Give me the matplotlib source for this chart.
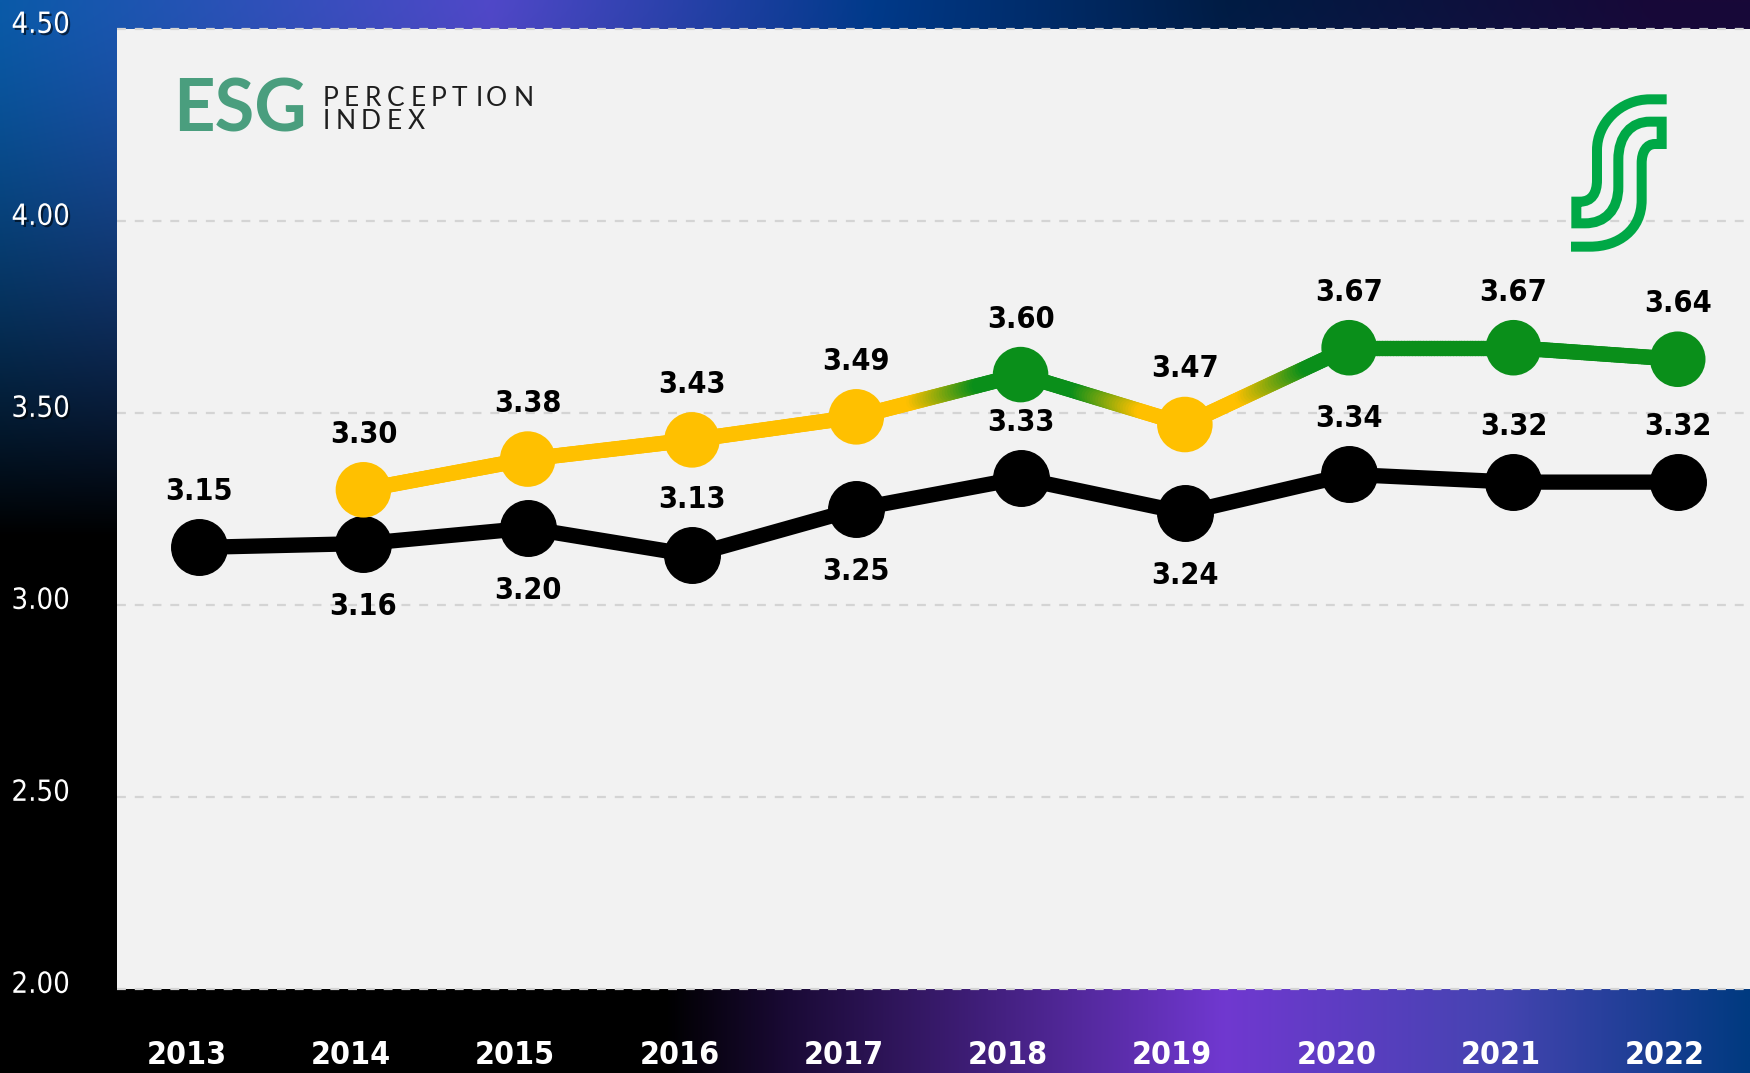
import numpy as np
import matplotlib
matplotlib.use("Agg")
import matplotlib.pyplot as plt
from matplotlib.collections import LineCollection
from matplotlib.colors import to_rgb
from matplotlib.path import Path
from matplotlib.patches import PathPatch
from matplotlib.textpath import TextPath
from matplotlib.font_manager import FontProperties
from matplotlib.transforms import offset_copy
from matplotlib import patheffects

# data
years = [2013, 2014, 2015, 2016, 2017, 2018, 2019, 2020, 2021, 2022]
overall = [3.15, 3.16, 3.20, 3.13, 3.25, 3.33, 3.24, 3.34, 3.32, 3.32]
overall_label_side = [1, -1, -1, 1, -1, 1, -1, 1, 1, 1]   # 1 above, -1 below
leader_years = years[1:]
leader = [3.30, 3.38, 3.43, 3.49, 3.60, 3.47, 3.67, 3.67, 3.64]
yticks = [2.00, 2.50, 3.00, 3.50, 4.00, 4.50]
ytick_labels = ["2.00", "2.50", "3.00", "3.50", "4.00", "4.50"]

YELLOW = "#ffc000"
GREEN = "#0a8f1a"
NARROW = ["DejaVu Sans"]

fig = plt.figure(figsize=(17.5, 10.73), dpi=100)

# background gradient
H, W = 300, 500
xs = np.linspace(0, 1, W)
top_stops = [0, .28, .5, .7, .95, 1]
top_cols = ["#0a5aa8", "#5048c8", "#003a8a", "#001c44", "#180838", "#180838"]
bot_stops = [0, .38, .45, .7, .86, 1]
bot_cols = ["#000000", "#000000", "#1a0a35", "#7038d0", "#4444b0", "#003a80"]


def row(stops, cols):
    rgb = np.array([to_rgb(c) for c in cols])
    return np.stack([np.interp(xs, stops, rgb[:, k]) for k in range(3)], axis=1)


top_row, bot_row = row(top_stops, top_cols), row(bot_stops, bot_cols)
w = (np.clip(np.linspace(0, 1, H) / 0.5, 0, 1) ** 1.4)[:, None, None]
bg = (1 - w) * top_row[None] + w * bot_row[None]
bga = fig.add_axes([0, 0, 1, 1])
bga.imshow(bg, aspect="auto", extent=[0, 1, 0, 1], interpolation="bilinear")
bga.axis("off")

# main axes
ax = fig.add_axes([117 / 1750, 1 - 989 / 1073, 1 - 117 / 1750, (989 - 29) / 1073])
ax.set_facecolor("#f2f2f2")
for s in ax.spines.values():
    s.set_visible(False)
ax.set_xlim(2012.5, 2022.44)
ax.set_ylim(2.0, 4.5)
ax.set_xticks([])
ax.set_yticks([])
for v in yticks:
    ax.axhline(v, color="#d4d4d4", lw=1.6, ls=(0, (4, 4)), zorder=1, clip_on=False)

for v, lab in zip(yticks, ytick_labels):
    ax.annotate(lab, xy=(0, v), xycoords=("axes fraction", "data"), xytext=(-76, 3),
                textcoords="offset points", ha="left", va="center", fontsize=21,
                color="white", family=NARROW, fontstretch="condensed", annotation_clip=False,
                path_effects=[patheffects.SimplePatchShadow(offset=(1.5, -1.5), shadow_rgbFace="black", alpha=0.6),
                              patheffects.Normal()])
for y in years:
    ax.annotate(str(y), xy=(y, 0), xycoords=("data", "axes fraction"), xytext=(-9, -48),
                textcoords="offset points", ha="center", va="center", fontsize=23,
                fontweight="bold", fontstretch="condensed", color="white", family=NARROW,
                annotation_clip=False)

# overall line
ax.plot(years, overall, color="black", lw=11, marker="o", ms=40, zorder=3, solid_capstyle="round")
for x, v, side in zip(years, overall, overall_label_side):
    ax.annotate(f"{v:.2f}", (x, v), xytext=(0, 40 if side > 0 else -45), textcoords="offset points",
                ha="center", va="center", fontsize=22, fontweight="bold", fontstretch="condensed",
                family=NARROW, zorder=6)

# leader line with yellow/green gradient
pt_cols = [GREEN if v >= 3.5 else YELLOW for v in leader]
segs, seg_cols = [], []
ts = np.linspace(0, 1, 61)
for i in range(len(leader) - 1):
    c0, c1 = np.array(to_rgb(pt_cols[i])), np.array(to_rgb(pt_cols[i + 1]))
    x0, x1 = leader_years[i], leader_years[i + 1]
    y0, y1 = leader[i], leader[i + 1]
    for a, b in zip(ts[:-1], ts[1:]):
        k = np.clip(((a + b) / 2 - 0.35) / 0.4, 0, 1)
        segs.append([(x0 + a * (x1 - x0), y0 + a * (y1 - y0)), (x0 + b * (x1 - x0), y0 + b * (y1 - y0))])
        seg_cols.append((1 - k) * c0 + k * c1)
ax.add_collection(LineCollection(segs, colors=seg_cols, linewidths=11, capstyle="round", zorder=4))
ax.scatter(leader_years, leader, s=40 ** 2, c=pt_cols, zorder=5, linewidths=0)
for x, v in zip(leader_years, leader):
    ax.annotate(f"{v:.2f}", (x, v), xytext=(0, 40), textcoords="offset points",
                ha="center", va="center", fontsize=22, fontweight="bold", fontstretch="condensed",
                family=NARROW, zorder=6)

# ESG Perception Index logo
fig.text(173 / 1750, 1 - 131 / 1073, "ESG", fontsize=52, fontweight="bold", family=["Lato", "DejaVu Sans"],
         color="#4a9e7e", ha="left", va="baseline")


def tracked(x_px, base_px, s, size, width_pt):
    fp = FontProperties(family=["Lato", "DejaVu Sans"], weight="normal", size=size)
    widths = [TextPath((0, 0), ch, size=size, prop=fp).get_extents().width for ch in s]
    gap = (width_pt - sum(widths)) / (len(s) - 1)
    dx = 0
    for ch, cw in zip(s, widths):
        tr = offset_copy(fig.transFigure, fig=fig, x=dx, y=0, units="points")
        fig.text(x_px / 1750, 1 - base_px / 1073, ch, fontproperties=fp, color="#1e1e1e",
                 ha="left", va="baseline", transform=tr)
        dx += cw + gap


tracked(323, 106, "PERCEPTION", 19, 148)
tracked(323, 129, "INDEX", 19, 73)

# S logo
la = fig.add_axes([1450 / 1750, 1 - 280 / 1073, 300 / 1750, 220 / 1073])
la.set_xlim(0, 900)
la.set_ylim(660, 0)
la.axis("off")
M, L, C = Path.MOVETO, Path.LINETO, Path.CURVE4
verts = [((650, 118), M), ((600, 118), L),
         ((510, 118), C), ((441, 190), C), ((441, 270), C),
         ((441, 360), L),
         ((441, 400), C), ((425, 425), C), ((390, 425), C),
         ((379, 425), L), ((379, 490), L), ((405, 490), L),
         ((465, 490), C), ((505, 450), C), ((505, 380), C),
         ((505, 300), L),
         ((505, 225), C), ((545, 185), C), ((600, 185), C),
         ((635, 185), L), ((635, 252), L), ((615, 252), L),
         ((590, 252), C), ((575, 275), C), ((575, 310), C),
         ((575, 420), L),
         ((575, 510), C), ((505, 560), C), ((420, 560), C),
         ((363, 560), L)]
path = Path([v for v, _ in verts], [c for _, c in verts])
la.add_patch(PathPatch(path, fill=False, edgecolor="#00a846", lw=7.2, joinstyle="miter", capstyle="butt"))

fig.savefig("out.png", dpi=100)
